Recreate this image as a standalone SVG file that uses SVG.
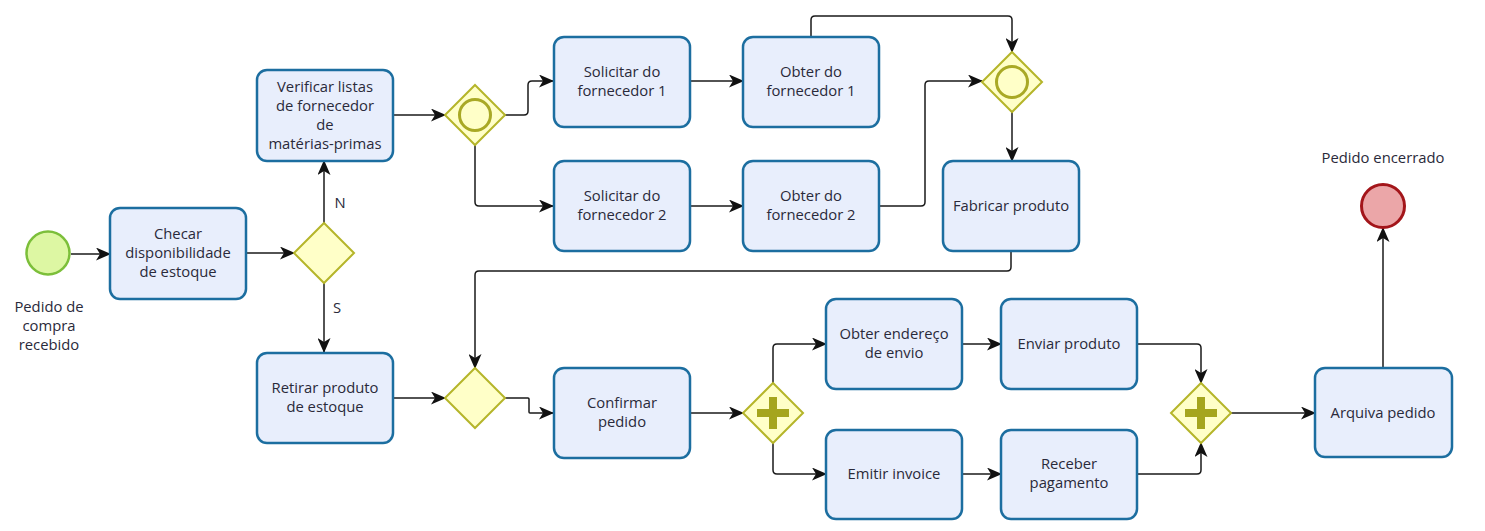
<svg xmlns="http://www.w3.org/2000/svg" width="1485" height="531" viewBox="0 0 1485 531">
<defs>
<style>
.task{fill:#E8EEFC;stroke:#1C6EA0;stroke-width:2.5}
.gw{fill:#FFFFC8;stroke:#B5B52A;stroke-width:2}
.gwc{fill:#FFFFC8;stroke:#A9A925;stroke-width:3}
.plus{fill:#A5A51E}
.t{font-family:"Open Sans","Liberation Sans",sans-serif;font-size:14.8px;fill:#2a2a3a;text-anchor:middle}
.c{fill:none;stroke:#1a1a1a;stroke-width:1.5;marker-end:url(#arr)}
</style>
<marker id="arr" markerUnits="userSpaceOnUse" markerWidth="15" markerHeight="13" refX="14" refY="6.5" orient="auto">
<path d="M0,0 L15,6.5 L0,13 L4,6.5 Z" fill="#111"/>
</marker>
</defs>
<rect width="1485" height="531" fill="#fff"/>

<g id="connectors">
<path class="c" d="M71,254 H110"/>
<path class="c" d="M246,253 H294"/>
<path class="c" d="M324,223 V161"/>
<path class="c" d="M324,283 V352"/>
<path class="c" d="M393,115 H445"/>
<path class="c" d="M505,115 H524 Q528,115 528,111 V85 Q528,81 532,81 H553"/>
<path class="c" d="M475,145 V202 Q475,206 479,206 H553"/>
<path class="c" d="M690,81 H743"/>
<path class="c" d="M690,206 H743"/>
<path class="c" d="M811,37 V20 Q811,16 815,16 H1008 Q1012,16 1012,20 V52"/>
<path class="c" d="M879,206 H921 Q925,206 925,202 V85 Q925,81 929,81 H982"/>
<path class="c" d="M1012,111 V161"/>
<path class="c" d="M1011,251 V267 Q1011,271 1007,271 H479 Q475,271 475,275 V368"/>
<path class="c" d="M393,398 H445"/>
<path class="c" d="M505,398 H528 Q529,398 529,399 V412 Q529,413 530,413 H553"/>
<path class="c" d="M690,413 H743"/>
<path class="c" d="M773,383 V348 Q773,344 777,344 H826"/>
<path class="c" d="M773,443 V470 Q773,474 777,474 H826"/>
<path class="c" d="M962,344 H1001"/>
<path class="c" d="M962,474 H1001"/>
<path class="c" d="M1137,344 H1197 Q1201,344 1201,348 V383"/>
<path class="c" d="M1137,474 H1197 Q1201,474 1201,470 V443"/>
<path class="c" d="M1231,413 H1315"/>
<path class="c" d="M1383,368 V228"/>
<text class="t" x="340" y="208">N</text>
<text class="t" x="337" y="313">S</text>
</g>

<g id="start">
<circle cx="48" cy="253" r="21.5" fill="#DDF7A3" stroke="#7CBF3A" stroke-width="2.5"/>
<text class="t" x="49" y="312">Pedido de</text>
<text class="t" x="49" y="331">compra</text>
<text class="t" x="49" y="350">recebido</text>
</g>

<g id="checar">
<rect class="task" x="110" y="208" width="136" height="91" rx="10"/>
<text class="t" x="178" y="239">Checar</text>
<text class="t" x="178" y="258">disponibilidade</text>
<text class="t" x="178" y="277">de estoque</text>
</g>

<g id="gw-estoque">
<path class="gw" d="M324,223 L354,253 L324,283 L294,253 Z"/>
</g>

<g id="verificar">
<rect class="task" x="257" y="70" width="136" height="91" rx="10"/>
<text class="t" x="325" y="92">Verificar listas</text>
<text class="t" x="325" y="111">de fornecedor</text>
<text class="t" x="325" y="130">de</text>
<text class="t" x="325" y="149">matérias-primas</text>
</g>

<g id="gw-incl-split">
<path class="gw" d="M475,85 L505,115 L475,145 L445,115 Z"/>
<circle class="gwc" cx="475" cy="115" r="15.5"/>
</g>

<g id="solicitar1">
<rect class="task" x="554" y="37" width="136" height="90" rx="10"/>
<text class="t" x="622" y="77">Solicitar do</text>
<text class="t" x="622" y="96">fornecedor 1</text>
</g>

<g id="solicitar2">
<rect class="task" x="554" y="161" width="136" height="90" rx="10"/>
<text class="t" x="622" y="201">Solicitar do</text>
<text class="t" x="622" y="220">fornecedor 2</text>
</g>

<g id="obter1">
<rect class="task" x="743" y="37" width="136" height="90" rx="10"/>
<text class="t" x="811" y="77">Obter do</text>
<text class="t" x="811" y="96">fornecedor 1</text>
</g>

<g id="obter2">
<rect class="task" x="743" y="161" width="136" height="90" rx="10"/>
<text class="t" x="811" y="201">Obter do</text>
<text class="t" x="811" y="220">fornecedor 2</text>
</g>

<g id="gw-incl-join">
<path class="gw" d="M1012,52 L1042,82 L1012,112 L982,82 Z"/>
<circle class="gwc" cx="1012" cy="82" r="15.5"/>
</g>

<g id="fabricar">
<rect class="task" x="943" y="161" width="136" height="90" rx="10"/>
<text class="t" x="1011" y="211">Fabricar produto</text>
</g>

<g id="retirar">
<rect class="task" x="257" y="353" width="136" height="90" rx="10"/>
<text class="t" x="325" y="393">Retirar produto</text>
<text class="t" x="325" y="412">de estoque</text>
</g>

<g id="gw-merge">
<path class="gw" d="M475,368 L505,398 L475,428 L445,398 Z"/>
</g>

<g id="confirmar">
<rect class="task" x="554" y="368" width="136" height="90" rx="10"/>
<text class="t" x="622" y="408">Confirmar</text>
<text class="t" x="622" y="427">pedido</text>
</g>

<g id="gw-par-split">
<path class="gw" d="M773,383 L803,413 L773,443 L743,413 Z"/>
<path class="plus" d="M769,397 H777 V409 H789 V417 H777 V429 H769 V417 H757 V409 H769 Z"/>
</g>

<g id="obter-endereco">
<rect class="task" x="826" y="299" width="136" height="90" rx="10"/>
<text class="t" x="894" y="339">Obter endereço</text>
<text class="t" x="894" y="358">de envio</text>
</g>

<g id="enviar">
<rect class="task" x="1001" y="299" width="136" height="90" rx="10"/>
<text class="t" x="1069" y="349">Enviar produto</text>
</g>

<g id="emitir">
<rect class="task" x="826" y="430" width="136" height="89" rx="10"/>
<text class="t" x="894" y="479">Emitir invoice</text>
</g>

<g id="receber">
<rect class="task" x="1001" y="430" width="136" height="89" rx="10"/>
<text class="t" x="1069" y="469">Receber</text>
<text class="t" x="1069" y="488">pagamento</text>
</g>

<g id="gw-par-join">
<path class="gw" d="M1201,383 L1231,413 L1201,443 L1171,413 Z"/>
<path class="plus" d="M1197,397 H1205 V409 H1217 V417 H1205 V429 H1197 V417 H1185 V409 H1197 Z"/>
</g>

<g id="arquiva">
<rect class="task" x="1315" y="368" width="137" height="89" rx="10"/>
<text class="t" x="1383" y="418">Arquiva pedido</text>
</g>

<g id="end">
<circle cx="1383" cy="206" r="21.5" fill="#EBA6A8" stroke="#A3151A" stroke-width="3"/>
<text class="t" x="1383" y="163">Pedido encerrado</text>
</g>
</svg>
